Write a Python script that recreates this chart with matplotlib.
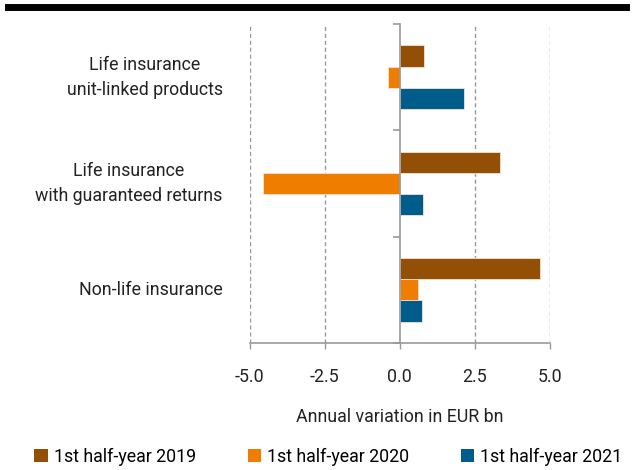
import matplotlib.pyplot as plt
import numpy as np
from matplotlib.lines import Line2D
from matplotlib.patches import Patch

plt.rcParams["font.family"] = ["Roboto", "DejaVu Sans"]

categories = [
    "Life insurance\nunit-linked products",
    "Life insurance\nwith guaranteed returns",
    "Non-life insurance",
]
series_names = ["1st half-year 2019", "1st half-year 2020", "1st half-year 2021"]
h1_2019 = [0.79, 3.34, 4.68]
h1_2020 = [-0.41, -4.57, 0.61]
h1_2021 = [2.14, 0.77, 0.74]
colors = ["#944F06", "#EF7D00", "#005C8B"]

fs = 12.8
txt = "#222222"

fig = plt.figure(figsize=(6.34, 4.70), dpi=100)
ax = fig.add_axes([249.7 / 634, 1 - 343 / 470, 300.3 / 634, 319 / 470])

y = np.arange(len(categories))
bar_h = 0.2
for i, (vals, name, col) in enumerate(zip([h1_2019, h1_2020, h1_2021], series_names, colors)):
    ax.barh(y + (i - 1) * bar_h, vals, height=bar_h, color=col,
            edgecolor="#f3e3d3", linewidth=0.6, label=name, zorder=3)

ax.set_xlim(-5, 5)
ax.set_ylim(len(categories) - 0.5, -0.5)
ax.set_xticks([-5, -2.5, 0, 2.5, 5])
ax.set_xticklabels(["-5.0", "-2.5", "0.0", "2.5", "5.0"], fontsize=fs, color=txt)
ax.tick_params(axis="x", length=4, color="#999999", width=1, pad=14)

# dashed grid, zero line acts as the category axis
for xv in [-5, -2.5, 2.5, 5]:
    ax.axvline(xv, color="#999999", ls=(0, (3, 2)), lw=1, zorder=1)
for s in ["top", "right"]:
    ax.spines[s].set_visible(False)
ax.spines["bottom"].set_color("#999999")
ax.spines["bottom"].set_linewidth(1.2)
ax.spines["left"].set_position(("data", 0))
ax.spines["left"].set_color("#999999")
ax.spines["left"].set_linewidth(1.2)
ax.spines["left"].set_zorder(4)
ax.set_yticks(np.arange(len(categories) + 1) - 0.5)
ax.set_yticklabels([])
ax.tick_params(axis="y", length=5, color="#999999", width=1.2)

for yi, cat in zip(y, categories):
    ax.text(-0.09, yi, cat, transform=ax.get_yaxis_transform(), ha="right",
            va="center", multialignment="center", fontsize=fs,
            color=txt, linespacing=1.5)

ax.set_xlabel("Annual variation in EUR bn", fontsize=fs, color=txt, labelpad=16)

handles = [Patch(facecolor=c, edgecolor="none") for c in colors]
fig.legend(handles, series_names, loc="lower center", ncol=3, frameon=False,
           fontsize=fs, bbox_to_anchor=(0.518, -0.025), handlelength=0.75,
           handleheight=0.75, handletextpad=0.35, columnspacing=2.9)

fig.add_artist(Line2D([8 / 634, 626 / 634], [1 - 7 / 470, 1 - 7 / 470],
                      color="black", lw=5, transform=fig.transFigure))

fig.savefig("out.png", dpi=100)
